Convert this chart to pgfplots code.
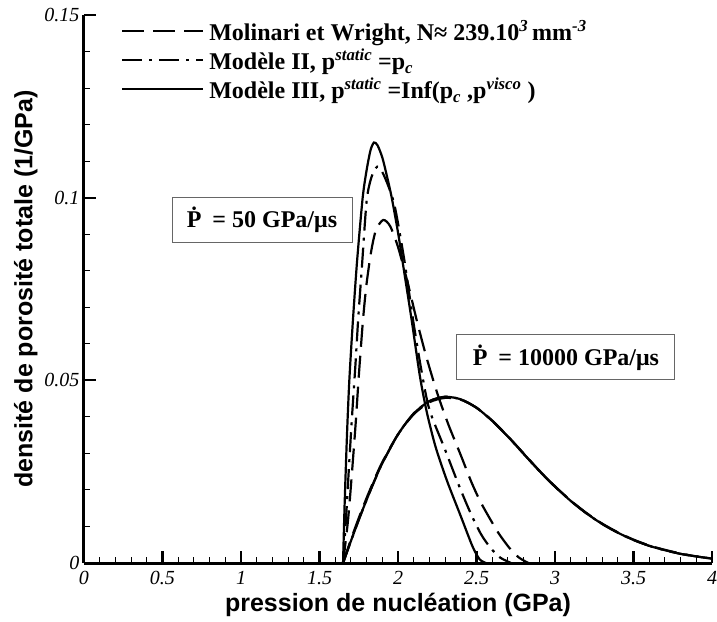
\documentclass[border=0pt]{standalone}
\usepackage{fontspec}
\setmainfont{Liberation Serif}
\newfontfamily\arialfont{Liberation Sans}
\usepackage{pgfplots}
\pgfplotsset{compat=1.18}
\pgfplotstableread{
x y
1.65 0
1.66 0.016
1.675 0.035
1.69 0.050
1.713 0.0665
1.74 0.083
1.775 0.100
1.80 0.1075
1.825 0.1130
1.847 0.1151
1.87 0.1143
1.90 0.1110
1.93 0.1058
1.96 0.1000
2.00 0.0905
2.04 0.0795
2.087 0.0665
2.14 0.0510
2.185 0.0410
2.24 0.0317
2.313 0.0224
2.40 0.0128
2.475 0.0045
2.52 0.0010
2.56 0
}\solidA
\pgfplotstableread{
x y
1.65 0
1.67 0.013
1.69 0.028
1.71 0.042
1.73 0.055
1.746 0.0665
1.77 0.081
1.80 0.099
1.83 0.1055
1.868 0.1085
1.90 0.1070
1.94 0.1030
1.98 0.0975
2.04 0.0830
2.096 0.0665
2.15 0.0525
2.20 0.0420
2.30 0.0310
2.39 0.0210
2.464 0.0135
2.53 0.0078
2.59 0.0041
2.65 0.0015
2.72 0
}\dashdotA
\pgfplotstableread{
x y
1.65 0
1.68 0.011
1.70 0.021
1.73 0.038
1.75 0.051
1.777 0.0665
1.80 0.0765
1.83 0.0855
1.86 0.0912
1.906 0.0939
1.95 0.0922
2.00 0.0865
2.06 0.0770
2.119 0.0665
2.18 0.0565
2.25 0.0465
2.32 0.0380
2.40 0.0295
2.465 0.0224
2.52 0.0172
2.571 0.0132
2.64 0.0082
2.71 0.0041
2.77 0.0015
2.83 0
}\dashedA
\pgfplotstableread{
x y
1.65 0
1.70 0.0060
1.75 0.0118
1.80 0.0173
1.85 0.0225
1.90 0.0273
2.00 0.0352
2.10 0.0409
2.20 0.0443
2.30 0.0455
2.40 0.0448
2.50 0.0425
2.60 0.0389
2.70 0.0346
2.80 0.0299
2.90 0.0252
3.00 0.0209
3.10 0.0170
3.20 0.0136
3.30 0.0107
3.40 0.0083
3.50 0.0063
3.60 0.0047
3.70 0.0035
3.80 0.0025
3.90 0.0018
4.00 0.0012
}\solidB
\pgfplotstableread{
x y
1.65 0
1.70 0.0064
1.75 0.0123
1.80 0.0178
1.85 0.0229
1.90 0.0276
2.00 0.0352
2.10 0.0407
2.20 0.0440
2.30 0.0452
2.40 0.0447
2.50 0.0425
2.60 0.0390
2.70 0.0347
2.80 0.0300
2.90 0.0253
3.00 0.0210
3.10 0.0171
3.20 0.0137
3.30 0.0108
3.40 0.0084
3.50 0.0064
3.60 0.0048
3.70 0.0036
3.80 0.0026
3.90 0.0018
4.00 0.0012
}\dashedB
\begin{document}
\begin{tikzpicture}
\useasboundingbox (-84pt,-58pt) rectangle (633pt,563pt);
\begin{axis}[
  scale only axis, width=628pt, height=548pt,
  xmin=0, xmax=4, ymin=0, ymax=0.15,
  axis lines*=left,
  axis line style={line width=3pt},
  tick align=inside,
  major tick length=12pt, minor tick length=6pt,
  major tick style={line width=2.2pt, black},
  minor tick style={line width=1.1pt, black},
  xtick={0,0.5,1,1.5,2,2.5,3,3.5,4},
  xticklabels={0,0.5,1,1.5,2,2.5,3,3.5,4},
  ytick={0,0.05,0.1,0.15},
  yticklabels={0,0.05,0.1,0.15},
  minor x tick num=4, minor y tick num=4,
  tick label style={font=\fontsize{20}{20}\selectfont\itshape},
  xticklabel style={yshift=-5pt},
  yticklabel style={xshift=-1pt},
  xlabel={pression de nucléation (GPa)},
  ylabel={densité de porosité totale (1/GPa)},
  xlabel style={yshift=-1pt},
  label style={font=\arialfont\bfseries\fontsize{25}{25}\selectfont},
  legend style={at={(0.054,0.998)}, anchor=north west, draw=none, fill=none,
    font=\bfseries\fontsize{24}{24}\selectfont, row sep=3pt,
    nodes={inner xsep=5pt}},
  legend cell align=left,
  legend image code/.code={\draw[#1] (0pt,0pt) -- (81pt,0pt);},
  every axis plot/.append style={line width=2.2pt, black, smooth, tension=0.45},
]
\addplot[dash pattern=on 22pt off 9pt] table {\dashedA};
\addlegendentry{Molinari et Wright, N≈ 239.10\textsuperscript{\textit{3}}\,mm\textsuperscript{\textit{-3}}}
\addplot[dash pattern=on 20pt off 7pt on 3pt off 7pt] table {\dashdotA};
\addlegendentry{Modèle II, p\textsuperscript{\textit{static}} =p\textsubscript{\textit{c}}}
\addplot[solid] table {\solidA};
\addlegendentry{Modèle III, p\textsuperscript{\textit{static}} =Inf(p\textsubscript{\textit{c}} ,p\textsuperscript{\textit{visco}} )}
\addplot[dash pattern=on 22pt off 9pt, forget plot] table {\dashedB};
\addplot[dash pattern=on 20pt off 7pt on 3pt off 7pt, forget plot] table {\solidB};
\addplot[solid, forget plot] table {\solidB};
\node[draw=black!60, line width=1pt, fill=white, minimum width=180pt, minimum height=45pt,
  font=\bfseries\fontsize{24}{24}\selectfont] at (axis cs:1.134,0.094) {\.{P}\hspace{0.45em}= 50 GPa/μs};
\node[draw=black!60, line width=1pt, fill=white, minimum width=218pt, minimum height=45pt,
  font=\bfseries\fontsize{24}{24}\selectfont] at (axis cs:3.07,0.0563) {\.{P}\hspace{0.45em}= 10000 GPa/μs};
\end{axis}
\end{tikzpicture}
\end{document}
